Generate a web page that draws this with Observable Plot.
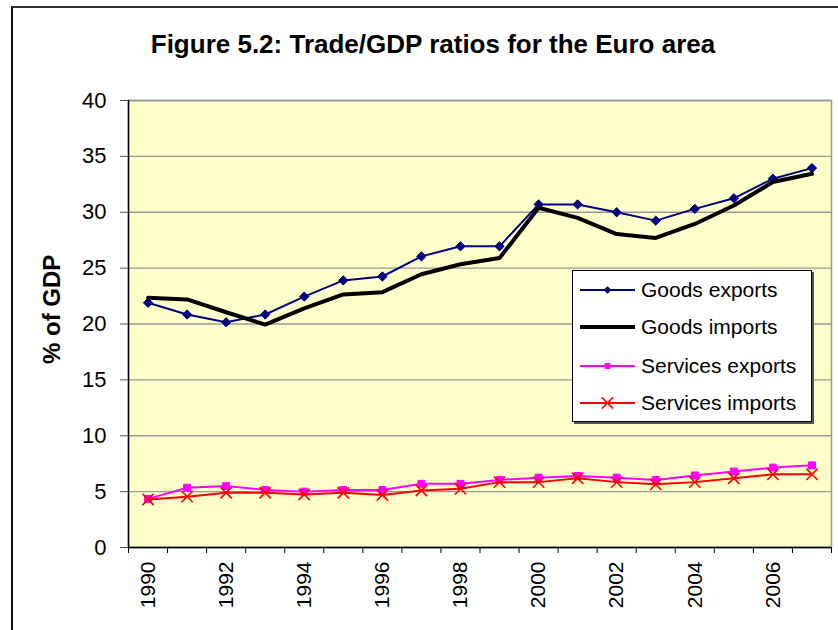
<!DOCTYPE html>
<html>
<head>
<meta charset="utf-8">
<script src="https://cdn.jsdelivr.net/npm/d3@7"></script>
<script src="https://cdn.jsdelivr.net/npm/@observablehq/plot@0.6"></script>
<style>
  html, body { margin: 0; padding: 0; background: #fff; }
  body { width: 838px; height: 630px; position: relative; overflow: hidden;
         font-family: "Liberation Sans", Arial, sans-serif; }
  #frame { position: absolute; left: 11px; top: 6px; width: 840px; height: 640px;
           border-top: 2px solid #333; border-left: 2px solid #111; pointer-events: none; }
  #title { position: absolute; left: 0; top: 0; width: 866px; height: 80px;
           text-align: center; font-weight: bold; font-size: 26px; line-height: 88px; color: #000; }
  #chart { position: absolute; left: 0; top: 80px; }
  #legend { position: absolute; left: 572px; top: 270px; width: 238px; height: 150px;
            background: #fff; border: 1px solid #000; box-shadow: 2px 2px 0 #555; }
  .row { position: absolute; left: 0; height: 30px; display: flex; align-items: center; }
  .row svg { margin-left: 7px; }
  .row span { margin-left: 6px; font-size: 21px; color: #000; white-space: nowrap; }
</style>
</head>
<body>
<div id="title">Figure 5.2: Trade/GDP ratios for the Euro area</div>
<div id="chart"></div>
<div id="legend"></div>
<div id="frame"></div>
<script>
// ---- data ----
const years = [1990,1991,1992,1993,1994,1995,1996,1997,1998,1999,2000,2001,2002,2003,2004,2005,2006,2007];
const goodsExports    = [21.9,20.85,20.15,20.85,22.45,23.9,24.25,26.05,26.95,26.95,30.7,30.7,30.0,29.25,30.3,31.25,33.0,33.95];
const goodsImports    = [22.35,22.2,21.05,19.95,21.4,22.65,22.85,24.45,25.35,25.9,30.4,29.5,28.05,27.7,28.95,30.6,32.7,33.45];
const servicesExports = [4.35,5.35,5.5,5.15,5.0,5.15,5.15,5.7,5.7,6.05,6.25,6.4,6.25,6.05,6.45,6.8,7.15,7.35];
const servicesImports = [4.3,4.55,4.9,4.9,4.75,4.9,4.7,5.1,5.25,5.85,5.85,6.2,5.85,5.65,5.85,6.2,6.55,6.55];
const seriesNames = ["Goods exports","Goods imports","Services exports","Services imports"];
const yTicks = [0,5,10,15,20,25,30,35,40];
const xLabelYears = [1990,1992,1994,1996,1998,2000,2002,2004,2006];
const yLabel = "% of GDP";

// ---- styles ----
const styles = [
  {stroke:"#000080", width:2, symbol:"diamond2", r:4.2, fill:"#000080", legendR:3},
  {stroke:"#000000", width:4, symbol:null},
  {stroke:"#FF00FF", width:2, symbol:"square", r:3.9, fill:"#FF00FF", legendR:2.8},
  {stroke:"#FF0000", width:2, symbol:"times", r:5.2, fill:"none", legendR:5.2}
];
const values = [goodsExports, goodsImports, servicesExports, servicesImports];
const tables = values.map(v => years.map((yr, i) => ({year: yr, value: v[i]})));
const xDomain = [years[0] - 0.5, years[years.length - 1] + 0.5];
const boundaries = [...years.map(y => y - 0.5), years[years.length - 1] + 0.5];

const marks = [
  Plot.frame({fill:"#FFFFCC", stroke:"#999", strokeWidth:1.5}),
  Plot.gridY(yTicks, {stroke:"#999", strokeOpacity:1, strokeWidth:1.3}),
  Plot.ruleX([xDomain[0]], {stroke:"#000", strokeWidth:1.5}),
  Plot.ruleY([0], {stroke:"#000", strokeWidth:1.5}),
  Plot.axisY(yTicks, {tickSize:8, tickPadding:14, fontSize:22, stroke:"#555", fill:"#000", label:null}),
  Plot.axisX(boundaries, {tickSize:6, tickFormat:() => "", stroke:"#000", label:null}),
  Plot.axisX(xLabelYears, {tickSize:0, tickPadding:14, tickRotate:-90, fontSize:21, fill:"#000",
                           tickFormat: d => String(d), label:null}),
  Plot.text([yLabel], {frameAnchor:"left", dx:-76, dy:40, rotate:-90, fontSize:24, fontWeight:"bold", fill:"#000"})
];
tables.forEach((t, i) => {
  const s = styles[i];
  marks.push(Plot.lineY(t, {x:"year", y:"value", stroke:s.stroke, strokeWidth:s.width}));
  if (s.symbol) {
    marks.push(Plot.dot(t, {x:"year", y:"value", symbol:s.symbol, r:s.r,
      fill:s.fill, stroke:s.stroke, strokeWidth: s.symbol === "times" ? 1.6 : 1}));
  }
});

const chart = Plot.plot({
  width: 838,
  height: 550,
  marginLeft: 128,
  marginRight: 7,
  marginTop: 20,
  marginBottom: 83,
  x: {type:"linear", domain: xDomain},
  y: {domain: [0, 40]},
  style: {fontFamily: '"Liberation Sans", Arial, sans-serif', background:"transparent", overflow:"visible"},
  marks
});
document.getElementById("chart").appendChild(chart);

// ---- legend ----
const legend = document.getElementById("legend");
const rowTops = [4, 41, 80, 117];
seriesNames.forEach((name, i) => {
  const s = styles[i];
  const row = document.createElement("div");
  row.className = "row";
  row.style.top = rowTops[i] + "px";
  const sw = d3.create("svg").attr("width", 55).attr("height", 20);
  sw.append("line").attr("x1", 0).attr("x2", 55).attr("y1", 10).attr("y2", 10)
    .attr("stroke", s.stroke).attr("stroke-width", s.width);
  if (s.symbol) {
    const symMap = {diamond2: d3.symbolDiamond2, square: d3.symbolSquare, times: d3.symbolTimes};
    sw.append("path").attr("transform", "translate(27.5,10)")
      .attr("d", d3.symbol(symMap[s.symbol], Math.PI * s.legendR * s.legendR)())
      .attr("fill", s.fill).attr("stroke", s.stroke).attr("stroke-width", s.symbol === "times" ? 1.6 : 1);
  }
  row.appendChild(sw.node());
  const sp = document.createElement("span");
  sp.textContent = name;
  row.appendChild(sp);
  legend.appendChild(row);
});
</script>
</body>
</html>
